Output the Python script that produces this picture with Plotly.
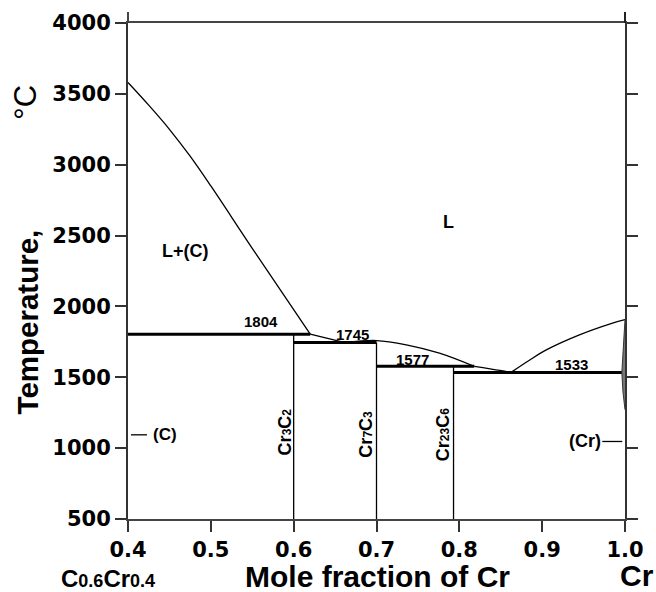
import plotly.graph_objects as go

# ---------------- data (mole fraction of Cr, temperature in °C) ----------------
liq_c_x = [0.400, 0.425, 0.450, 0.475, 0.500, 0.550, 0.620]
liq_c_t = [3580, 3420, 3250, 3060, 2850, 2410, 1804]

liq_cr3c2_x = [0.620, 0.662]
liq_cr3c2_t = [1804, 1745]

liq_cr7c3_x = [0.662, 0.700, 0.736, 0.776, 0.818]
liq_cr7c3_t = [1745, 1759, 1729, 1670, 1577]

liq_cr23c6_x = [0.818, 0.849, 0.862]
liq_cr23c6_t = [1577, 1548, 1533]

liq_cr_x = [0.862, 0.885, 0.905, 0.945, 0.985, 1.000]
liq_cr_t = [1533, 1622, 1693, 1799, 1882, 1907]

lens_x = [1.000, 0.9975, 0.9962, 0.9975, 1.000]
lens_t = [1907, 1700, 1533, 1400, 1271]

inv_t = [1804, 1745, 1577, 1533]
inv_x0 = [0.400, 0.600, 0.700, 0.793]
inv_x1 = [0.620, 0.700, 0.818, 0.996]
inv_label_x = [0.561, 0.6715, 0.743, 0.936]
inv_label_t = [1891, 1801, 1628, 1590]

SUB = "<span style='font-size:12px;font-weight:bold'>{}</span>"
comp_label = ["Cr" + SUB.format("3") + "C" + SUB.format("2"),
              "Cr" + SUB.format("7") + "C" + SUB.format("3"),
              "Cr" + SUB.format("23") + "C" + SUB.format("6")]
comp_x = [0.600, 0.700, 0.793]
comp_top = [1804, 1745, 1577]
comp_label_x = [0.5895, 0.6871, 0.7795]
comp_label_t = [1118, 1101, 1094]

region_labels = ["L+(C)", "L"]
region_x = [0.470, 0.7866]
region_t = [2391, 2594]

x_ticks = [0.4, 0.5, 0.6, 0.7, 0.8, 0.9, 1.0]
y_ticks = [500, 1000, 1500, 2000, 2500, 3000, 3500, 4000]

T_MIN = 500

fig = go.Figure()

thin = dict(color="black", width=1.3)
for xs, ts in [(liq_c_x, liq_c_t), (liq_cr3c2_x, liq_cr3c2_t), (liq_cr7c3_x, liq_cr7c3_t),
               (liq_cr23c6_x, liq_cr23c6_t), (liq_cr_x, liq_cr_t)]:
    fig.add_trace(go.Scatter(x=xs, y=ts, mode="lines",
                             line=dict(color="black", width=1.3, shape="spline", smoothing=1.0),
                             hoverinfo="skip", showlegend=False))

fig.add_trace(go.Scatter(x=lens_x, y=lens_t, mode="lines", fill="toself", fillcolor="#777",
                         line=dict(color="#333", width=1), hoverinfo="skip", showlegend=False))

for x0, x1, t in zip(inv_x0, inv_x1, inv_t):
    fig.add_trace(go.Scatter(x=[x0, x1], y=[t, t], mode="lines", line=dict(color="black", width=3),
                             hoverinfo="skip", showlegend=False))

for x, top in zip(comp_x, comp_top):
    fig.add_trace(go.Scatter(x=[x, x], y=[T_MIN, top], mode="lines", line=thin,
                             hoverinfo="skip", showlegend=False))

# small dashes for the terminal solid phases
fig.add_trace(go.Scatter(x=[0.4036, 0.4229], y=[1094, 1094], mode="lines", line=thin, hoverinfo="skip", showlegend=False))
fig.add_trace(go.Scatter(x=[0.9726, 0.9967], y=[1047, 1047], mode="lines", line=thin, hoverinfo="skip", showlegend=False))

C = dict(xanchor="center", yanchor="middle", showarrow=False)
lab_font = dict(family="Liberation Sans", size=15, color="black", weight="bold")
annotations = []
for x, t, v in zip(inv_label_x, inv_label_t, inv_t):
    annotations.append(dict(x=x, y=t, xref="x", yref="y", text=str(v), font=lab_font, **C))
for x, t, s in zip(comp_label_x, comp_label_t, comp_label):
    annotations.append(dict(x=x, y=t, xref="x", yref="y", text=s, textangle=-90,
                            font=dict(family="Liberation Sans", size=18, color="black", weight="bold"), **C))
for x, t, s in zip(region_x, region_t, region_labels):
    annotations.append(dict(x=x, y=t, xref="x", yref="y", text=s,
                            font=dict(family="Liberation Sans", size=18, color="black", weight="bold"), **C))
annotations.append(dict(x=0.445, y=1094, xref="x", yref="y", text="(C)",
                        font=dict(family="Liberation Sans", size=17, color="black", weight="bold"), **C))
annotations.append(dict(x=0.9516, y=1047, xref="x", yref="y", text="(Cr)",
                        font=dict(family="Liberation Sans", size=18, color="black", weight="bold"), **C))

BIGSUB = "<span style='font-size:18px;font-weight:bold'>{}</span>"
title_font = dict(family="Liberation Sans", size=30, color="black", weight="bold")
annotations.append(dict(x=0.5027, y=-0.115, xref="paper", yref="paper", text="Mole fraction of Cr",
                        font=title_font, **C))
annotations.append(dict(x=-0.041, y=-0.119, xref="paper", yref="paper",
                        text="C" + BIGSUB.format("0.6") + "Cr" + BIGSUB.format("0.4"),
                        font=dict(family="Liberation Sans", size=24, color="black", weight="bold"), **C))
annotations.append(dict(x=1.0241, y=-0.114, xref="paper", yref="paper", text="Cr",
                        font=title_font, **C))
annotations.append(dict(x=-0.2025, y=0.397, xref="paper", yref="paper", text="Temperature,",
                        textangle=-90, font=dict(family="Liberation Sans", size=29.5, color="black", weight="bold"), **C))
annotations.append(dict(x=-0.2065, y=0.840, xref="paper", yref="paper", text="°C",
                        textangle=-90, font=dict(family="Liberation Sans", size=31, color="black"), **C))

shapes = [
    dict(type="line", xref="paper", yref="paper", x0=0, x1=0, y0=1, y1=1.022, line=dict(color="#444", width=2)),
    dict(type="line", xref="paper", yref="paper", x0=1, x1=1, y0=1, y1=1.022, line=dict(color="#222", width=2)),
]

tick_font = dict(family="DejaVu Sans", size=21, color="black", weight="bold")
fig.update_layout(
    width=656, height=592, autosize=False,
    margin=dict(l=128, r=31, t=23, b=73, pad=0),
    plot_bgcolor="white", paper_bgcolor="white",
    showlegend=False,
    annotations=annotations, shapes=shapes,
    xaxis=dict(range=[0.4, 1.0], tickvals=x_ticks, ticktext=[f"{v:.1f}" for v in x_ticks],
               ticks="outside", ticklen=11, tickwidth=2, tickcolor="#333",
               showline=True, linewidth=2, linecolor="#444", mirror=True,
               showgrid=False, zeroline=False, tickfont=tick_font),
    yaxis=dict(range=[500, 4000], tickvals=y_ticks,
               ticks="outside", ticklen=11, tickwidth=2, tickcolor="#333",
               showline=True, linewidth=2, linecolor="#333", mirror="ticks",
               showgrid=False, zeroline=False, tickfont=tick_font),
)

fig.write_html("out.html")
